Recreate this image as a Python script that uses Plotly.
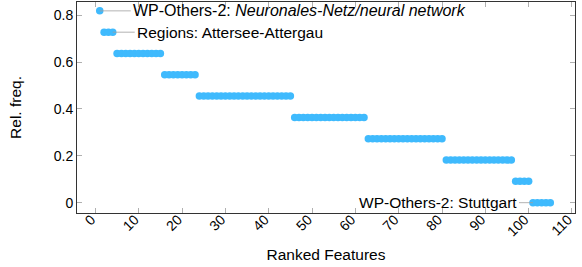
import plotly.graph_objects as go

# Rank groups: (first rank, last rank, relative frequency)
group_start = [1, 2, 5, 16, 24, 46, 63, 81, 97, 101]
group_end = [1, 4, 15, 23, 45, 62, 80, 96, 100, 105]
group_freq = [9/11, 8/11, 7/11, 6/11, 5/11, 4/11, 3/11, 2/11, 1/11, 0.0]

xs, ys = [], []
for s, e, f in zip(group_start, group_end, group_freq):
    for r in range(s, e + 1):
        xs.append(r)
        ys.append(f)

x_ticks = list(range(0, 111, 10))
y_ticks = [0, 0.2, 0.4, 0.6, 0.8]

# pins attached to data points
pin_rank = [1, 4, 101]
pin_freq = [9/11, 8/11, 0.0]
pin_text = ["WP-Others-2: <i>Neuronales-Netz/neural network</i>",
            "Regions: Attersee-Attergau",
            "WP-Others-2: Stuttgart"]

FONT = "Liberation Sans"
BLUE = "#3FBAFD"

fig = go.Figure()
fig.add_trace(go.Scatter(
    x=xs, y=ys, mode="markers",
    marker=dict(size=7.5, color=BLUE, line=dict(width=0)),
    showlegend=False, hoverinfo="skip"))

ax_off = [31, 22, -14]
anchors = ["left", "left", "right"]
sizes = [16, 15.5, 15.5]
for rk, fq, tx, a, an, sz in zip(pin_rank, pin_freq, pin_text, ax_off, anchors, sizes):
    fig.add_annotation(x=rk, y=fq, xref="x", yref="y", text=tx,
                       showarrow=True, arrowhead=0, arrowwidth=0.8,
                       arrowcolor="#a0a0a0", ax=a, ay=0, xanchor=an,
                       yanchor="middle", borderpad=1,
                       font=dict(family=FONT, size=sz, color="black"))

axis_common = dict(showline=True, linecolor="#333333", linewidth=1,
                   mirror="allticks", ticks="inside", ticklen=5,
                   tickcolor="#b0b0b0", showgrid=False, zeroline=False,
                   automargin=False,
                   tickfont=dict(family=FONT, size=14, color="black"))

fig.update_xaxes(range=[-4.25, 110.7], tickvals=x_ticks,
                 ticktext=[str(v) for v in x_ticks], tickangle=-45,
                 ticklabelstandoff=-8, ticklabelshift=-4,
                 title=dict(text="Ranked Features", standoff=10,
                            font=dict(family=FONT, size=15.5, color="black")),
                 **axis_common)
fig.update_yaxes(range=[-0.044, 0.856], tickvals=y_ticks,
                 ticktext=["0", "0.2", "0.4", "0.6", "0.8"],
                 title=dict(text="Rel. freq.", standoff=28,
                            font=dict(family=FONT, size=15.5, color="black")),
                 **axis_common)

fig.update_layout(width=582, height=267,
                  margin=dict(l=77, r=7, t=1.5, b=54),
                  plot_bgcolor="white", paper_bgcolor="white")

fig.write_html("out.html", config={"displayModeBar": False},
               post_script="document.body.style.margin='0';document.body.style.overflow='hidden';")
